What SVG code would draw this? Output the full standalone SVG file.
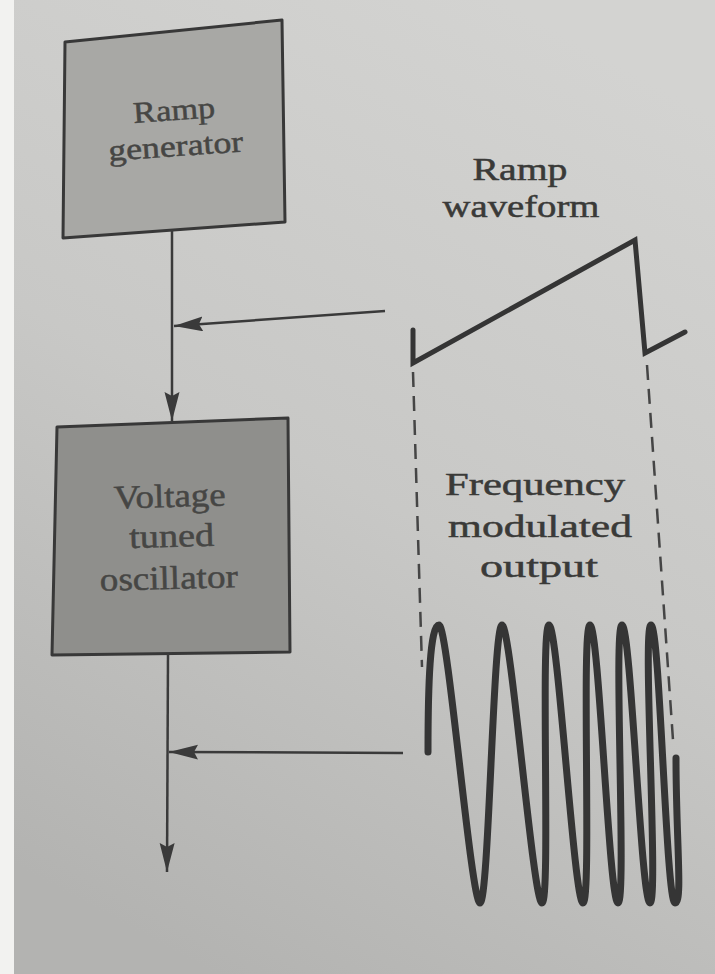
<svg xmlns="http://www.w3.org/2000/svg" width="715" height="974" viewBox="0 0 715 974">
  <defs>
    <linearGradient id="bg" x1="0.7" y1="0" x2="0.3" y2="1">
      <stop offset="0" stop-color="#d3d3d1"/>
      <stop offset="0.5" stop-color="#c8c8c6"/>
      <stop offset="1" stop-color="#b3b3b1"/>
    </linearGradient>
    <marker id="arrow" markerUnits="userSpaceOnUse" markerWidth="30" markerHeight="16" refX="29" refY="7.5" orient="auto">
      <path d="M0,0 L29,7.5 L0,15 L4,7.5 Z" fill="#3a3a3a"/>
    </marker>
    <style>
      .box { stroke: #383838; stroke-width: 3; stroke-linejoin: round; }
      .lbl { font-family: "Liberation Serif", "Times New Roman", serif; fill: #3a3a38; stroke: #3a3a38; stroke-width: 0.5; text-anchor: middle; }
      .boxlbl { fill: #464644; stroke: #464644; }
      .wire { fill: none; stroke: #3a3a3a; stroke-width: 2.5; }
      .wave { fill: none; stroke: #353535; stroke-linecap: round; }
      .dash { fill: none; stroke: #454545; stroke-width: 2.5; stroke-dasharray: 15 9; }
    </style>
  </defs>

  <rect x="0" y="0" width="715" height="974" fill="url(#bg)"/>
  <rect x="0" y="0" width="14" height="974" fill="#f2f2f0"/>

  <g id="ramp-generator">
    <polygon class="box" points="65,42 282,20 285,222 63,238" fill="#a8a8a5"/>
    <g transform="rotate(-4 176 138)">
      <text class="lbl boxlbl" x="176" y="120" font-size="30" textLength="82" lengthAdjust="spacingAndGlyphs">Ramp</text>
      <text class="lbl boxlbl" x="175" y="156" font-size="30" textLength="135" lengthAdjust="spacingAndGlyphs">generator</text>
    </g>
  </g>

  <g id="voltage-tuned-oscillator">
    <polygon class="box" points="57,427 288,418 290,652 52,655" fill="#8f8f8c"/>
    <g transform="rotate(-1.5 170 548)">
      <text class="lbl boxlbl" x="171" y="507" font-size="33" textLength="112" lengthAdjust="spacingAndGlyphs">Voltage</text>
      <text class="lbl boxlbl" x="172" y="547" font-size="33" textLength="85" lengthAdjust="spacingAndGlyphs">tuned</text>
      <text class="lbl boxlbl" x="168" y="589" font-size="33" textLength="138" lengthAdjust="spacingAndGlyphs">oscillator</text>
    </g>
  </g>

  <g id="ramp-waveform">
    <text class="lbl" x="520" y="180" font-size="32" textLength="95" lengthAdjust="spacingAndGlyphs">Ramp</text>
    <text class="lbl" x="521" y="217" font-size="32" textLength="157" lengthAdjust="spacingAndGlyphs">waveform</text>
    <polyline class="wave" stroke-width="5" stroke-linejoin="miter" stroke-linecap="butt" points="413,330 413,363 635,240 645,353 685,332"/>
  </g>

  <g id="fm-output">
    <text class="lbl" x="535" y="495" font-size="32" textLength="180" lengthAdjust="spacingAndGlyphs">Frequency</text>
    <text class="lbl" x="540" y="537" font-size="32" textLength="184" lengthAdjust="spacingAndGlyphs">modulated</text>
    <text class="lbl" x="539" y="577" font-size="32" textLength="118" lengthAdjust="spacingAndGlyphs">output</text>
    <path class="wave" stroke-width="7" d="M428,752 C428,685 430,625 439,625 C448,625 471,903 480,903 C489,903 493,625 502,625 C511,625 533,903 542,903 C551,903 540,625 549,625 C558,625 574,903 583,903 C592,903 581,625 590,625 C599,625 609,903 618,903 C627,903 613,625 622,625 C631,625 641,903 650,903 C659,903 642,625 651,625 C660,625 666,903 675,903 C683,903 676,840 676,758"/>
  </g>

  <g id="connectors">
    <line class="wire" x1="172" y1="230" x2="172" y2="421" marker-end="url(#arrow)"/>
    <line class="wire" x1="385" y1="311" x2="174" y2="326" marker-end="url(#arrow)"/>
    <line class="wire" x1="168" y1="654" x2="167" y2="872" marker-end="url(#arrow)"/>
    <line class="wire" x1="403" y1="753" x2="169" y2="752" marker-end="url(#arrow)"/>
    <line class="dash" x1="413" y1="372" x2="422" y2="667"/>
    <line class="dash" x1="647" y1="365" x2="673" y2="740"/>
  </g>
</svg>
